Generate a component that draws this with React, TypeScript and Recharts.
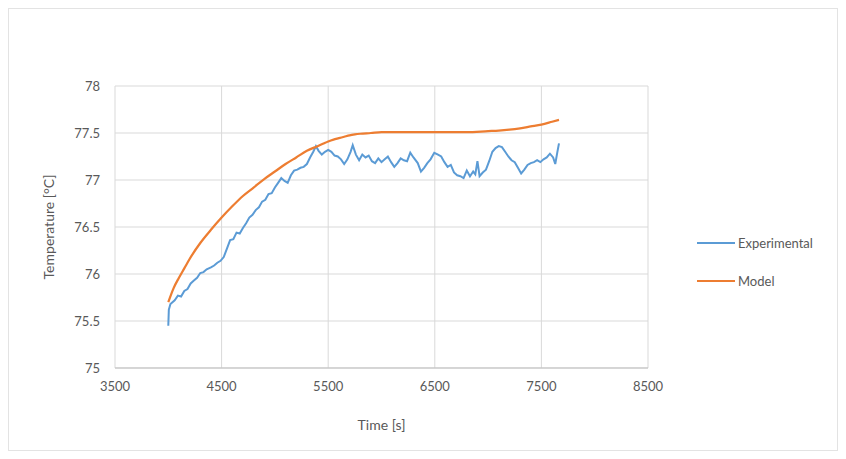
import { LineChart, Line, XAxis, YAxis, CartesianGrid } from 'recharts';

// time [s] / temperature [°C] pairs
const experimental: [number, number][] = [
  [4000, 75.45], [4005, 75.62], [4020, 75.68], [4060, 75.72], [4090, 75.77], [4120, 75.76],
  [4150, 75.82], [4180, 75.84], [4210, 75.9], [4240, 75.93], [4270, 75.96], [4300, 76.01],
  [4330, 76.02], [4360, 76.05], [4400, 76.07], [4430, 76.09], [4460, 76.12], [4490, 76.14],
  [4520, 76.18], [4550, 76.27], [4580, 76.36], [4610, 76.37], [4640, 76.44], [4670, 76.43],
  [4700, 76.49], [4730, 76.54], [4760, 76.6], [4790, 76.63], [4820, 76.68], [4850, 76.71],
  [4880, 76.77], [4910, 76.79], [4940, 76.85], [4970, 76.86], [5000, 76.92], [5030, 76.97],
  [5060, 77.02], [5090, 76.99], [5120, 76.97], [5150, 77.05], [5180, 77.1], [5210, 77.11],
  [5240, 77.13], [5270, 77.14], [5300, 77.17], [5330, 77.24], [5360, 77.3], [5385, 77.36],
  [5410, 77.31], [5440, 77.27], [5470, 77.3], [5500, 77.32], [5530, 77.3], [5560, 77.26],
  [5590, 77.25], [5620, 77.22], [5650, 77.17], [5680, 77.22], [5710, 77.3], [5730, 77.37],
  [5760, 77.27], [5790, 77.21], [5820, 77.27], [5850, 77.24], [5880, 77.26], [5910, 77.2],
  [5940, 77.18], [5970, 77.23], [6000, 77.19], [6030, 77.22], [6060, 77.25], [6090, 77.19],
  [6120, 77.14], [6150, 77.18], [6180, 77.23], [6210, 77.21], [6240, 77.2], [6270, 77.29],
  [6300, 77.24], [6340, 77.18], [6370, 77.09], [6400, 77.13], [6430, 77.18], [6460, 77.22],
  [6495, 77.29], [6530, 77.27], [6560, 77.25], [6590, 77.19], [6620, 77.14], [6650, 77.16],
  [6680, 77.08], [6710, 77.05], [6740, 77.04], [6770, 77.02], [6800, 77.1], [6830, 77.04],
  [6860, 77.09], [6880, 77.06], [6900, 77.2], [6920, 77.04], [6950, 77.08], [6980, 77.11],
  [7010, 77.2], [7040, 77.3], [7070, 77.34], [7100, 77.36], [7130, 77.35], [7160, 77.3],
  [7190, 77.25], [7220, 77.21], [7250, 77.19], [7280, 77.13], [7310, 77.07], [7340, 77.11],
  [7370, 77.16], [7400, 77.18], [7430, 77.19], [7460, 77.21], [7490, 77.19], [7520, 77.22],
  [7550, 77.24], [7580, 77.28], [7610, 77.24], [7630, 77.17], [7650, 77.3], [7665, 77.39],
];

const model: [number, number][] = [
  [4000, 75.7], [4050, 75.85], [4100, 75.96], [4150, 76.06], [4200, 76.16], [4300, 76.33],
  [4400, 76.47], [4500, 76.6], [4600, 76.72], [4700, 76.83], [4800, 76.92], [4900, 77.01],
  [5000, 77.09], [5100, 77.17], [5200, 77.24], [5300, 77.31], [5400, 77.36], [5450, 77.385],
  [5500, 77.41], [5550, 77.43], [5600, 77.445], [5650, 77.46], [5700, 77.475], [5750, 77.485],
  [5800, 77.492], [5900, 77.5], [6000, 77.51], [6200, 77.51], [6400, 77.51], [6600, 77.51],
  [6800, 77.51], [7000, 77.52], [7100, 77.525], [7200, 77.535], [7300, 77.55], [7400, 77.57],
  [7500, 77.59], [7600, 77.62], [7665, 77.64],
];

const xTicks = [3500, 4500, 5500, 6500, 7500, 8500];
const yTicks = [75, 75.5, 76, 76.5, 77, 77.5, 78];

const seriesNames = ['Experimental', 'Model'];
const seriesColors = ['#5b9bd5', '#ed7d31'];

const toRows = (pairs: [number, number][]) => pairs.map(([t, v]) => ({ t, v }));

const FONT = 'Lato, "Open Sans", sans-serif';
const TEXT = '#595959';

export default function App() {
  return (
    <div style={{ position: 'relative', width: 828, height: 441, border: '1px solid #e3e3e3', background: '#fff' }}>
      <LineChart width={828} height={441} margin={{ top: 77, right: 189, left: 36, bottom: 20 }}>
        <CartesianGrid stroke="#d9d9d9" />
        <XAxis
          type="number"
          dataKey="t"
          domain={[3500, 8500]}
          ticks={xTicks}
          allowDataOverflow
          height={62}
          axisLine={{ stroke: '#bfbfbf' }}
          tickLine={false}
          tickMargin={8}
          tick={{ fill: TEXT, fontSize: 13, fontFamily: FONT }}
          label={{ value: 'Time [s]', position: 'insideBottom', offset: 0, fill: TEXT, fontSize: 14, fontFamily: FONT }}
        />
        <YAxis
          type="number"
          domain={[75, 78]}
          ticks={yTicks}
          width={70}
          axisLine={false}
          tickLine={false}
          tickMargin={9}
          tick={{ fill: TEXT, fontSize: 13, fontFamily: FONT }}
          label={{
            value: 'Temperature [°C]',
            angle: -90,
            position: 'insideLeft',
            offset: 4,
            style: { textAnchor: 'middle' },
            fill: TEXT,
            fontSize: 14,
            fontFamily: FONT,
          }}
        />
        <Line
          data={toRows(experimental)}
          dataKey="v"
          name={seriesNames[0]}
          type="linear"
          stroke={seriesColors[0]}
          strokeWidth={2}
          dot={false}
          isAnimationActive={false}
        />
        <Line
          data={toRows(model)}
          dataKey="v"
          name={seriesNames[1]}
          type="monotone"
          stroke={seriesColors[1]}
          strokeWidth={2.25}
          dot={false}
          isAnimationActive={false}
        />
      </LineChart>
      <div style={{ position: 'absolute', left: 688, top: 215, fontFamily: FONT, fontSize: 13, color: TEXT }}>
        {seriesNames.map((name, i) => (
          <div key={name} style={{ display: 'flex', alignItems: 'center', height: 38 }}>
            <span style={{ width: 38, height: 2, background: seriesColors[i], marginRight: 3 }} />
            <span>{name}</span>
          </div>
        ))}
      </div>
    </div>
  );
}
